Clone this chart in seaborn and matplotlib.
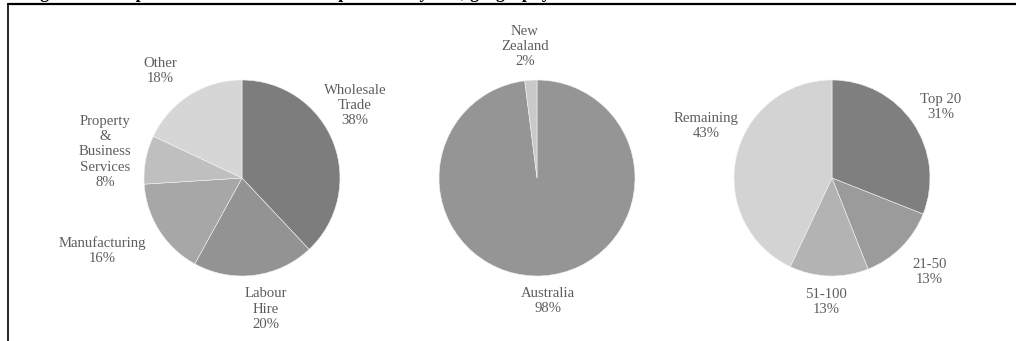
import numpy as np
import matplotlib
matplotlib.use("Agg")
import matplotlib.pyplot as plt
import seaborn as sns
from matplotlib.lines import Line2D

# data
sector_labels = ["Wholesale\nTrade", "Labour\nHire", "Manufacturing",
                 "Property\n&\nBusiness\nServices", "Other"]
sector_share = [38, 20, 16, 8, 18]

geo_labels = ["Australia", "New\nZealand"]
geo_share = [98, 2]

cust_labels = ["Top 20", "21-50", "51-100", "Remaining"]
cust_share = [31, 13, 13, 43]

title = "Figure 3: Composition of the receivables portfolio by size, geography and customer"

sns.set_theme(style="white")
plt.rcParams['font.family'] = ['Liberation Serif', 'DejaVu Serif']

W, H = 1016, 341
R = 98      # pie radius in px
S = 300     # axes box in px
CY = 178    # pie centre, px from top

fig = plt.figure(figsize=(W / 100, H / 100), dpi=100)
fig.patch.set_facecolor("white")


def draw_pie(cx, values, labels, colors, dists, shifts):
    ax = fig.add_axes([(cx - S / 2) / W, (H - CY - S / 2) / H, S / W, S / H])
    wedges, _ = ax.pie(values, colors=colors, startangle=90, counterclock=False,
                       radius=1, wedgeprops=dict(edgecolor="#f2f2f2", linewidth=0.4))
    lim = S / 2 / R
    ax.set_xlim(-lim, lim)
    ax.set_ylim(-lim, lim)
    ax.axis("off")
    for w, lab, v, d, s in zip(wedges, labels, values, dists, shifts):
        mid = np.deg2rad((w.theta1 + w.theta2) / 2 + s)
        ax.text(d * np.cos(mid), d * np.sin(mid), f"{lab}\n{v}%",
                ha="center", va="center", fontsize=10.6, color="#5e5e5e",
                linespacing=1.22)
    return ax


draw_pie(242, sector_share, sector_labels,
         ["#7d7d7d", "#939393", "#a7a7a7", "#bfbfbf", "#d6d6d6"],
         [1.37, 1.36, 1.61, 1.42, 1.37], [11, 3, -5, 0, 5])
draw_pie(537, geo_share, geo_labels,
         ["#959595", "#c9c9c9"],
         [1.26, 1.35], [1.5, 1.6])
draw_pie(832, cust_share, cust_labels,
         ["#7f7f7f", "#9b9b9b", "#b3b3b3", "#d3d3d3"],
         [1.33, 1.38, 1.27, 1.39], [-1, 1, -1, -10])

# heading sits mostly above the crop, as in the source page
fig.text(24 / W, 1.0 + 2.5 / H, title, ha="left", va="baseline", fontsize=13,
         fontweight="bold", color="black")
fig.add_artist(Line2D([8 / W, 1], [1 - 4 / H, 1 - 4 / H], color="black", lw=1.6))
fig.add_artist(Line2D([8 / W, 8 / W], [0, 1 - 4 / H], color="black", lw=1.2))

fig.savefig("out.png", dpi=100)
plt.close(fig)
